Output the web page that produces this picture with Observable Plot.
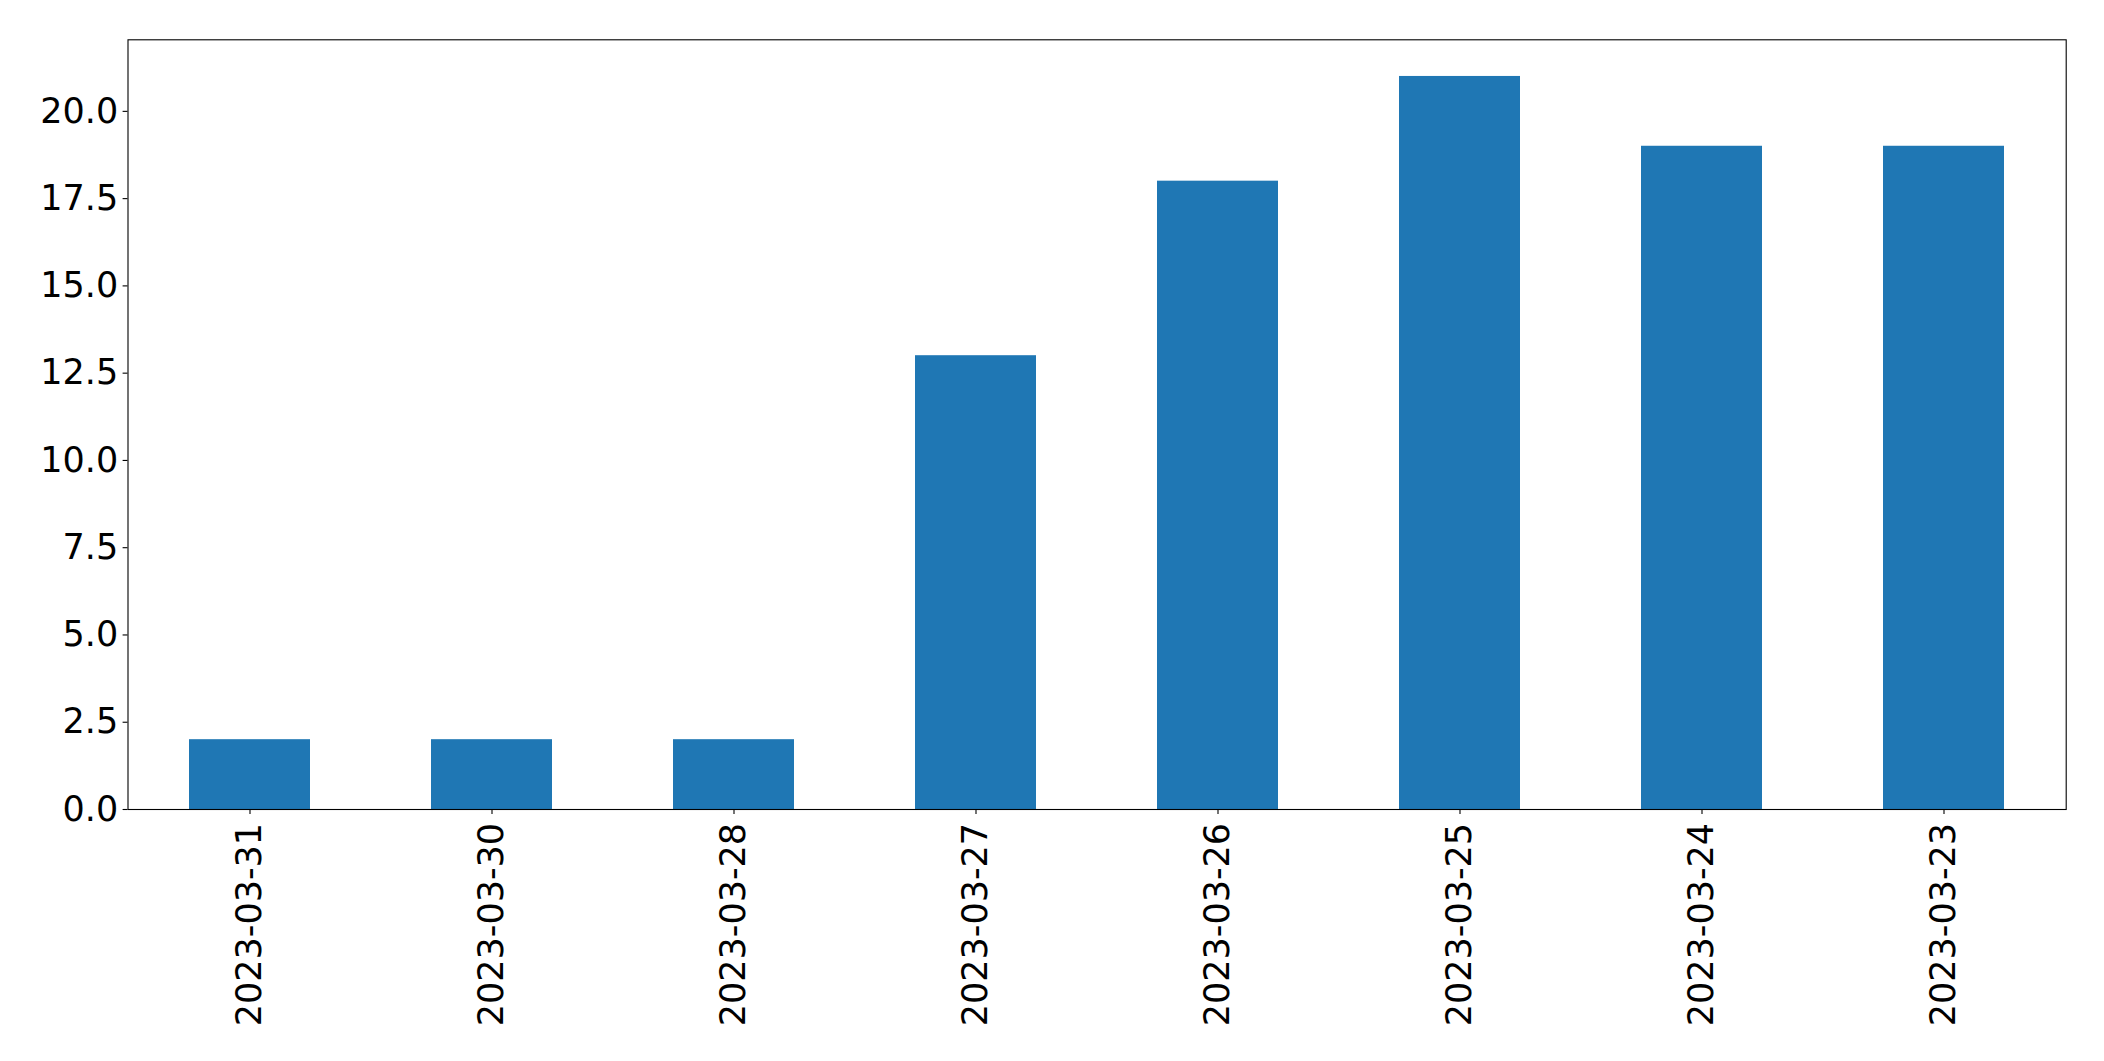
<!DOCTYPE html>
<html>
<head>
<meta charset="utf-8">
<script src="https://cdn.jsdelivr.net/npm/d3@7"></script>
<script src="https://cdn.jsdelivr.net/npm/@observablehq/plot@0.6"></script>
<style>
  html, body { margin: 0; padding: 0; background: #fff; }
  #chart svg { display: block; }
</style>
</head>
<body>
<div id="chart"></div>
<script>
const dates = ["2023-03-31", "2023-03-30", "2023-03-28", "2023-03-27", "2023-03-26", "2023-03-25", "2023-03-24", "2023-03-23"];
const counts = [2, 2, 2, 13, 18, 21, 19, 19];
const yTicks = [0, 2.5, 5, 7.5, 10, 12.5, 15, 17.5, 20];

const data = dates.map((d, i) => ({date: d, count: counts[i]}));

const chart = Plot.plot({
  width: 2104,
  height: 1061,
  marginLeft: 127.5,
  marginRight: 38.3,
  marginTop: 39.3,
  marginBottom: 252,
  style: {fontFamily: "DejaVu Sans", fontSize: "35px", color: "#000", background: "#fff"},
  x: {domain: dates, paddingInner: 0.5, paddingOuter: 0.25, label: null},
  y: {domain: [0, 22.05], label: null},
  marks: [
    Plot.barY(data, {x: "date", y: "count", fill: "#1f77b4"}),
    Plot.axisX({tickRotate: -90, tickSize: 4.9, tickPadding: 8.5, fontSize: 35, label: null, stroke: "#000", strokeWidth: 1.1}),
    Plot.axisY({ticks: yTicks, tickFormat: d => d.toFixed(1), tickSize: 4.9, tickPadding: 4.9, fontSize: 35, label: null, stroke: "#000", strokeWidth: 1.1}),
    Plot.frame({stroke: "#000", strokeWidth: 1.1})
  ]
});
document.getElementById("chart").appendChild(chart);
</script>
</body>
</html>
